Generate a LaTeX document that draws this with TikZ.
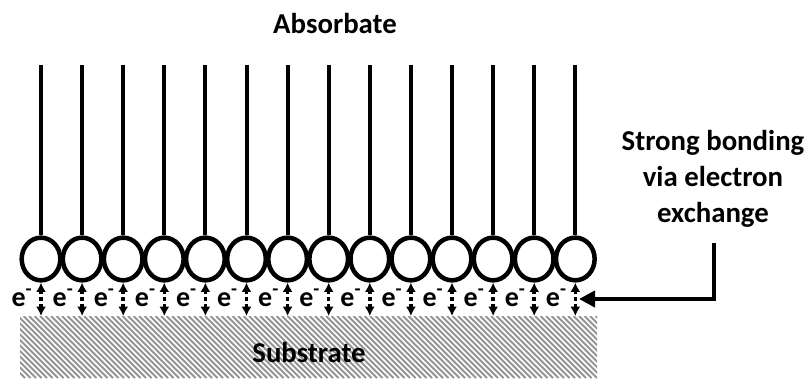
\documentclass[tikz,border=0pt]{standalone}
\usepackage{fontspec}
\setmainfont{Carlito}
\usetikzlibrary{arrows.meta,shapes.geometric}
\begin{document}
\begin{tikzpicture}[x=0.75pt,y=-0.75pt,
  bead/.style={draw,ellipse,line width=3.4pt,minimum width=29pt,minimum height=32pt,inner sep=0pt,fill=white},
  stem/.style={line width=3pt},
  eex/.style={dash pattern=on 2.4pt off 2.4pt,line width=2.6pt,{Latex[length=7pt,width=7.5pt]}-{Latex[length=7pt,width=7.5pt]}},
  lab/.style={font=\bfseries\fontsize{21.6}{27}\selectfont,align=center,inner sep=0pt},
  elab/.style={font=\bfseries\fontsize{21}{22}\selectfont,inner sep=0pt,anchor=base},
  bigarrow/.style={line width=3pt,-{Triangle[length=12pt,width=12pt]}}]
\useasboundingbox (0,0) rectangle (809,378);
% substrate hatch
\begin{scope}
  \clip (20,316) rectangle (597,378);
  \foreach \k in {-70,-64.5,...,600}
    \draw[black!42,line width=1.5pt] (\k,316) -- (\k+62,378);
\end{scope}
\node[lab] (sub) at (309,352) {Substrate};
\node[lab] (abs) at (335,24) {Absorbate};
% beads
\foreach \i in {1,...,14}{
  \pgfmathsetmacro{\xx}{41+(\i-1)*41.1}
  \node[bead] (c\i) at (\xx,259) {};
  \coordinate (t\i) at (\xx,65);
  \coordinate (s\i) at (\xx,316);
  \draw[stem] (t\i) -- (c\i.north);
  \draw[eex] (c\i.south) -- (s\i);
  \node[elab] (e\i) at (\xx-19,306) {e\textsuperscript{-}};
}
\node[lab] (txt) at (713,179) {Strong bonding\\via electron\\exchange};
\coordinate (a1) at (714,243);
\coordinate (tip) at (579,299);
\draw[bigarrow] (a1) |- (tip);
\end{tikzpicture}
\end{document}
